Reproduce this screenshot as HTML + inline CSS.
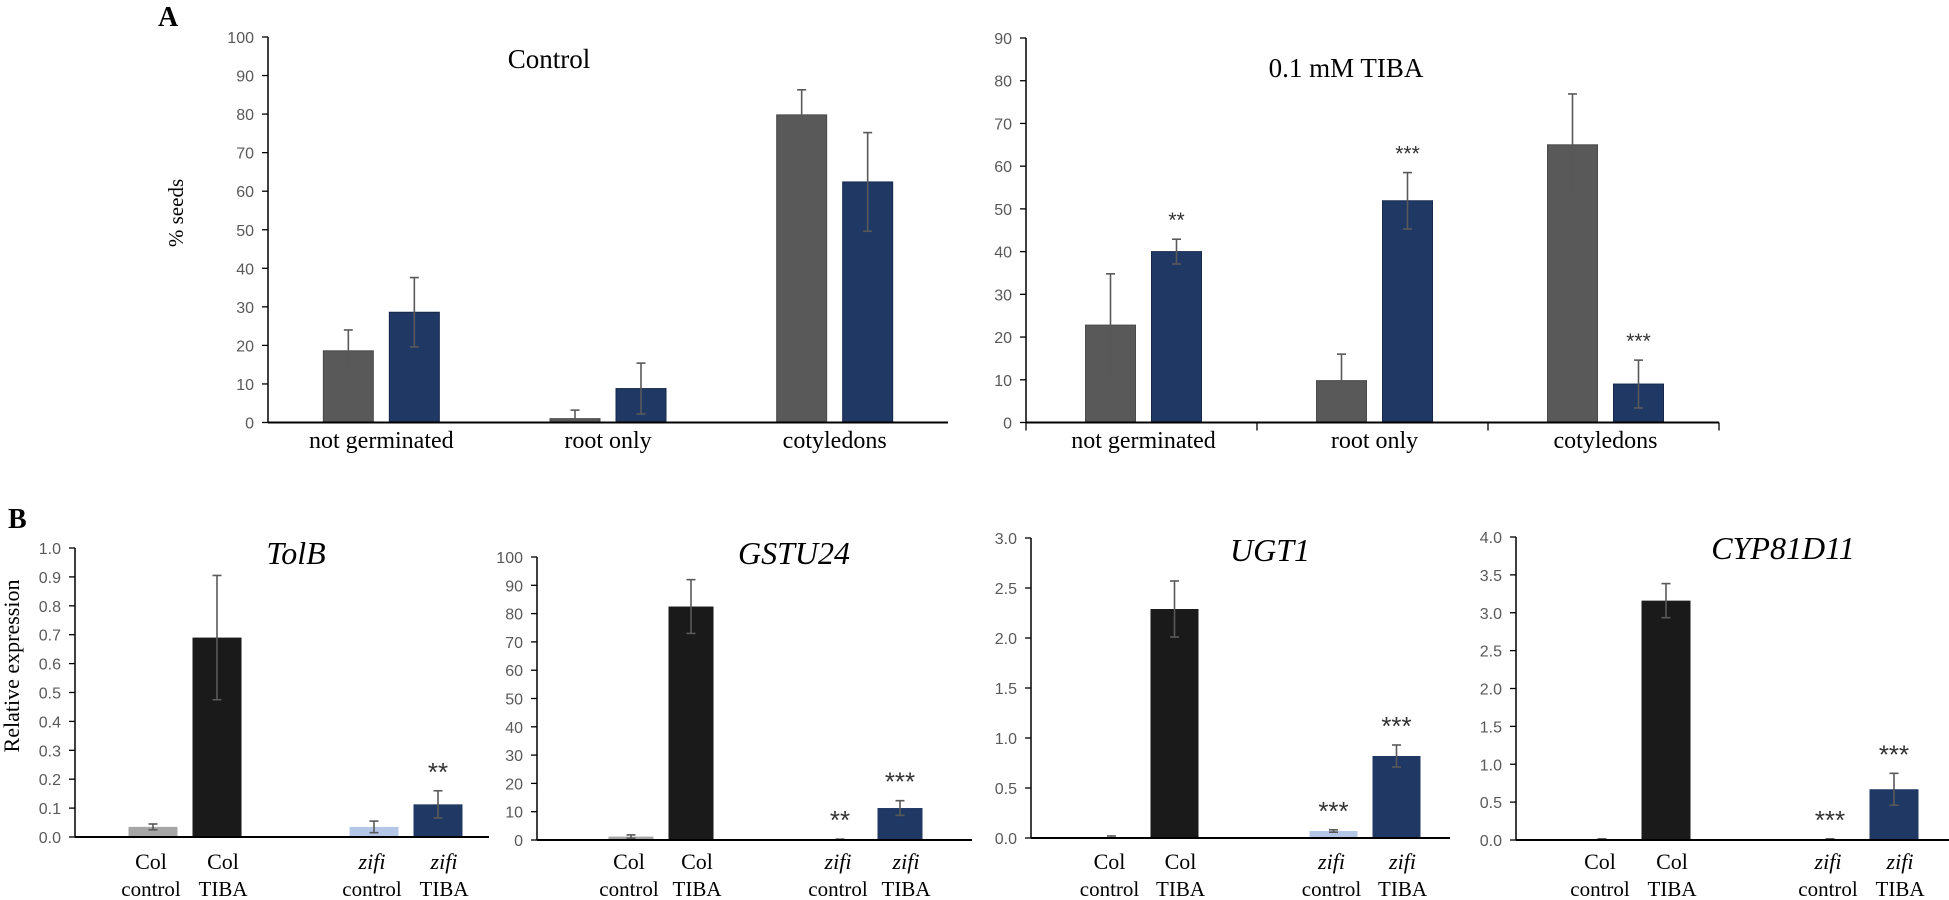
<!DOCTYPE html>
<html><head><meta charset="utf-8">
<style>
html,body{margin:0;padding:0;background:#fff;}
svg{display:block;}
.tick{font-family:"Liberation Sans",sans-serif;font-size:16px;fill:#595959;}
.serif{font-family:"Liberation Serif",serif;fill:#000;}
</style></head>
<body>
<svg id="fig" width="1949" height="900" viewBox="0 0 1949 900" xmlns="http://www.w3.org/2000/svg">
  <text class="serif" x="158" y="26" font-size="28" font-weight="bold">A</text>
  <text class="serif" x="8" y="528" font-size="28" font-weight="bold">B</text>
  <text class="serif" x="0" y="0" font-size="21" text-anchor="middle" transform="translate(183,213) rotate(-90)">% seeds</text>
  <text class="serif" x="0" y="0" font-size="22" text-anchor="middle" transform="translate(19,666) rotate(-90)">Relative expression</text>
</svg>
<script>
// ---------- Panel A data ----------
const aCategories = ["not germinated", "root only", "cotyledons"];
const aControlGray = [18.6, 1.0, 79.8];
const aControlGrayErr = [5.4, 2.2, 6.5];
const aControlBlue = [28.6, 8.8, 62.4];
const aControlBlueErr = [9.0, 6.6, 12.8];
const aTibaGray = [22.8, 9.8, 65.0];
const aTibaGrayErr = [12.0, 6.2, 11.9];
const aTibaBlue = [40.0, 51.9, 9.0];
const aTibaBlueErr = [2.9, 6.6, 5.6];
const aTibaStars = ["", "**", "", "***", "", "***"];
const aControlTicks = [0,10,20,30,40,50,60,70,80,90,100];
const aTibaTicks = [0,10,20,30,40,50,60,70,80,90];

// ---------- Panel B data ----------
const bCategories = [["Col","control"],["Col","TIBA"],["zifi","control"],["zifi","TIBA"]];
const tolbValues = [0.035, 0.69, 0.035, 0.113];
const tolbErr = [0.01, 0.215, 0.02, 0.047];
const tolbStars = ["", "", "", "**"];
const tolbTicks = ["0.0","0.1","0.2","0.3","0.4","0.5","0.6","0.7","0.8","0.9","1.0"];
const gstuValues = [1.2, 82.5, 0.2, 11.3];
const gstuErr = [0.6, 9.5, 0.1, 2.6];
const gstuStars = ["", "", "**", "***"];
const gstuTicks = ["0","10","20","30","40","50","60","70","80","90","100"];
const ugtValues = [0.01, 2.29, 0.07, 0.82];
const ugtErr = [0.01, 0.28, 0.012, 0.11];
const ugtStars = ["", "", "***", "***"];
const ugtTicks = ["0.0","0.5","1.0","1.5","2.0","2.5","3.0"];
const cypValues = [0.01, 3.16, 0.01, 0.67];
const cypErr = [0.005, 0.225, 0.005, 0.21];
const cypStars = ["", "", "***", "***"];
const cypTicks = ["0.0","0.5","1.0","1.5","2.0","2.5","3.0","3.5","4.0"];

const NS = "http://www.w3.org/2000/svg";
const svg = document.getElementById("fig");
function mk(tag, attrs, parent) {
  const e = document.createElementNS(NS, tag);
  for (const k in attrs) e.setAttribute(k, attrs[k]);
  (parent || svg).appendChild(e);
  return e;
}
const ERR = "#595959";

function drawErr(g, cx, yTop, yBot) {
  const l = mk("line", {x1: cx, x2: cx, y1: yTop, y2: yBot, stroke: ERR, "stroke-width": 1.6}, g);
  
  
  for (const yy of [yTop, yBot]) {
    const c = mk("line", {x1: cx - 4.5, x2: cx + 4.5, y1: yy, y2: yy, stroke: ERR, "stroke-width": 1.6}, g);
    
    
  }
}

function yAxis(g, axisX, y0, yTop, ticks, maxV) {
  const ys = v => y0 - (v / maxV) * (y0 - yTop);
  const ax = mk("line", {x1: axisX, x2: axisX, y1: yTop, y2: y0, stroke: "#000", "stroke-width": 1.5}, g);
  
  
  ticks.forEach(t => {
    const v = parseFloat(t);
    const y = ys(v);
    const tk = mk("line", {x1: axisX - 6, x2: axisX, y1: y, y2: y, stroke: "#000", "stroke-width": 1.3}, g);
    
    
    const tx = mk("text", {x: axisX - 14, y: y + 6, "text-anchor": "end", class: "tick"}, g);
    tx.textContent = t;
    
    
  });
  return ys;
}

function bar(g, cx, w, v, err, ys, y0, fill, name, stroke) {
  const top = ys(v);
  const r = mk("rect", {x: cx - w / 2, y: top, width: w, height: Math.max(0.5, y0 - top), fill: fill, stroke: stroke || "none", "stroke-width": 1}, g);
  
  
  if (err > 0) drawErr(g, cx, ys(v + err), ys(Math.max(0, v - err)));
  return top;
}

function star(g, cx, y, s, size) {
  if (!s) return;
  const t = mk("text", {x: cx, y: y, "text-anchor": "middle", class: "tick"}, g);
  t.style.fill = "#333";
  t.style.fontSize = size + "px";
  t.textContent = s;
  
  
}

// ---------- Panel A charts ----------
function panelA(opt) {
  const g = mk("g", {});
  
  
  const ys = yAxis(g, opt.axisX, opt.y0, opt.yTop, opt.ticks.map(String), opt.maxV);
  const band = (opt.xEnd - opt.axisX) / aCategories.length;
  aCategories.forEach((c, i) => {
    const gc = opt.axisX + band * (i + 0.5) + opt.shift;
    bar(g, gc - 33, 50, opt.gray[i], opt.grayErr[i], ys, opt.y0, "#595959", "bar-wildtype-" + i, "#4a4a4a");
    bar(g, gc + 33, 50, opt.blue[i], opt.blueErr[i], ys, opt.y0, "#203864", "bar-mutant-" + i, "#16294d");
    if (opt.stars) {
      star(g, gc + 33, ys(opt.blue[i] + opt.blueErr[i]) - 12, opt.stars[i * 2 + 1], 21);
    }
    const lab = mk("text", {x: gc, y: 448, "text-anchor": "middle", class: "serif", "font-size": 24}, g);
    lab.textContent = c;
    
    
    if (opt.groupTicks) {
      const x = opt.axisX + band * (i + 1);
      const tk = mk("line", {x1: x, x2: x, y1: opt.y0, y2: opt.y0 + 8, stroke: "#000", "stroke-width": 1.3}, g);
      
      
    }
  });
  if (opt.groupTicks) {
    const tk = mk("line", {x1: opt.axisX, x2: opt.axisX, y1: opt.y0, y2: opt.y0 + 8, stroke: "#000", "stroke-width": 1.3}, g);
    
    
  }
  const xl = mk("line", {x1: opt.axisX, x2: opt.xEnd, y1: opt.y0, y2: opt.y0, stroke: "#000", "stroke-width": 2}, g);
  
  
  const tt = mk("text", {x: opt.titleX, y: opt.titleY, "text-anchor": "middle", class: "serif", "font-size": 27}, g);
  tt.textContent = opt.title;
  
  
}

panelA({name: "chart-control", axisX: 268, xEnd: 948, y0: 422.5, yTop: 37, maxV: 100, ticks: aControlTicks,
  gray: aControlGray, grayErr: aControlGrayErr, blue: aControlBlue, blueErr: aControlBlueErr,
  shift: 0, title: "Control", titleX: 549, titleY: 68, groupTicks: false});
panelA({name: "chart-tiba", axisX: 1026, xEnd: 1719, y0: 422.5, yTop: 38, maxV: 90, ticks: aTibaTicks,
  gray: aTibaGray, grayErr: aTibaGrayErr, blue: aTibaBlue, blueErr: aTibaBlueErr, stars: aTibaStars,
  shift: 2, title: "0.1 mM TIBA", titleX: 1346, titleY: 77, groupTicks: true});

// ---------- Panel B charts ----------
const bFills = ["#a6a6a6", "#1a1a1a", "#b4c7e7", "#203864"];
function panelB(opt) {
  const g = mk("g", {});
  
  
  const maxV = parseFloat(opt.ticks[opt.ticks.length - 1]);
  const ys = yAxis(g, opt.axisX, opt.y0, opt.yTop, opt.ticks, maxV);
  bCategories.forEach((c, i) => {
    const grp = Math.floor(i / 2), side = (i % 2) * 2 - 1;
    const cx = opt.axisX + opt.firstGroup + grp * opt.groupGap + side * opt.off;
    bar(g, cx, opt.bw, opt.values[i], opt.err[i], ys, opt.y0, bFills[i], "bar-" + c.join("-").toLowerCase());
    star(g, cx, ys(opt.values[i] + opt.err[i]) - 10, opt.stars[i], 26);
    const italic = c[0] === "zifi" ? "italic" : "normal";
    const lx = cx + (i % 2 === 1 ? 6 : -2);
    const l1 = mk("text", {x: lx, y: 869, "text-anchor": "middle", class: "serif", "font-size": 22, "font-style": italic}, g);
    l1.textContent = c[0];
    
    
    const l2 = mk("text", {x: lx, y: 896, "text-anchor": "middle", class: "serif", "font-size": 21}, g);
    l2.textContent = c[1];
    
    
  });
  const xl = mk("line", {x1: opt.axisX, x2: opt.xEnd, y1: opt.y0, y2: opt.y0, stroke: "#000", "stroke-width": 2}, g);
  
  
  const tt = mk("text", {x: opt.titleX, y: opt.titleY, "text-anchor": "middle", class: "serif", "font-size": 32, "font-style": "italic"}, g);
  tt.textContent = opt.title;
  
  
}

panelB({name: "chart-tolb", axisX: 75, xEnd: 489, y0: 837, yTop: 548, ticks: tolbTicks, values: tolbValues, err: tolbErr, stars: tolbStars,
  firstGroup: 110, groupGap: 221, off: 32, bw: 49, title: "TolB", titleX: 296, titleY: 564});
panelB({name: "chart-gstu24", axisX: 537, xEnd: 972, y0: 840, yTop: 557, ticks: gstuTicks, values: gstuValues, err: gstuErr, stars: gstuStars,
  firstGroup: 124, groupGap: 209, off: 30, bw: 45, title: "GSTU24", titleX: 794, titleY: 564});
panelB({name: "chart-ugt1", axisX: 1031, xEnd: 1450, y0: 838, yTop: 538, ticks: ugtTicks, values: ugtValues, err: ugtErr, stars: ugtStars,
  firstGroup: 112, groupGap: 222, off: 31.5, bw: 48, title: "UGT1", titleX: 1270, titleY: 561});
panelB({name: "chart-cyp81d11", axisX: 1516, xEnd: 1949, y0: 840, yTop: 537, ticks: cypTicks, values: cypValues, err: cypErr, stars: cypStars,
  firstGroup: 118, groupGap: 228, off: 32, bw: 49, title: "CYP81D11", titleX: 1783, titleY: 559});
</script>
</body></html>
